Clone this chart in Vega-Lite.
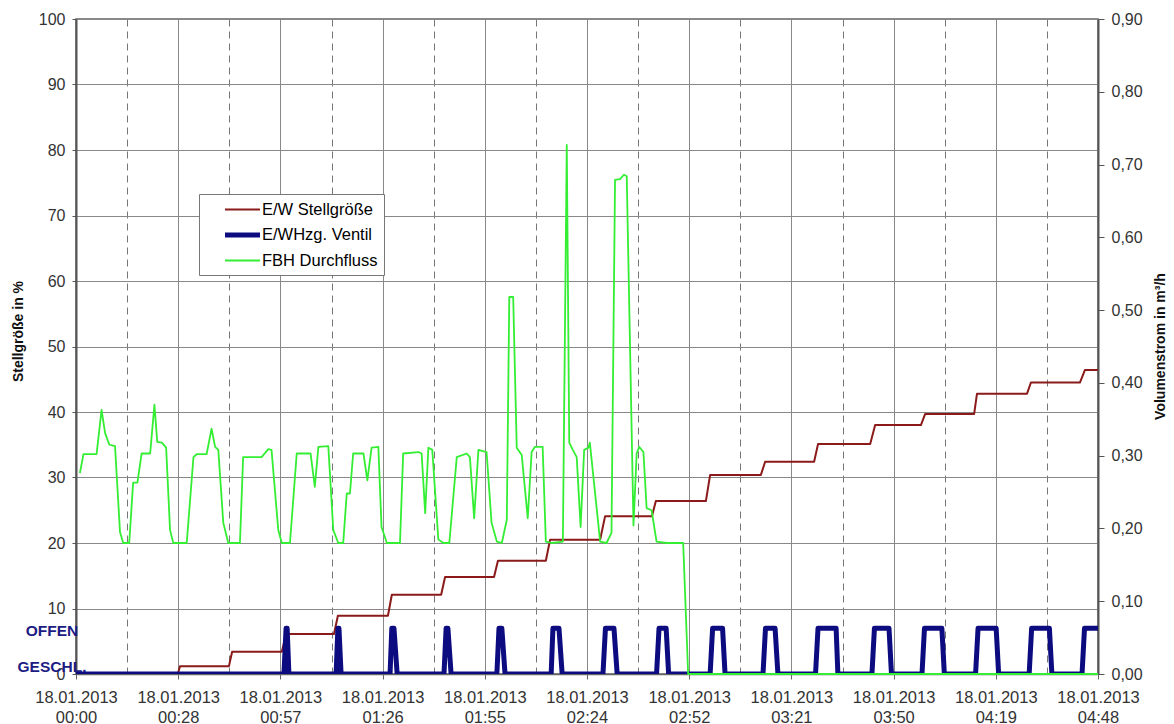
{
  "$schema": "https://vega.github.io/schema/vega-lite/v6.json",
  "width": 1022,
  "height": 655,
  "autosize": {"type": "none"},
  "padding": {"left": 76, "top": 19, "right": 76, "bottom": 50},
  "background": "white",
  "config": {
    "font": "Liberation Sans",
    "view": {"stroke": "#666", "strokeWidth": 1.5},
    "axis": {"labelFont": "Liberation Sans", "labelColor": "#333", "labelFontSize": 16, "titleFont": "Liberation Sans"}
  },
  "data": {
    "values": [
      {"s": "E/W Stellgröße", "t": 0, "v": 0},
      {"s": "E/W Stellgröße", "t": 28.7, "v": 0},
      {"s": "E/W Stellgröße", "t": 29.3, "v": 1.2},
      {"s": "E/W Stellgröße", "t": 43.1, "v": 1.2},
      {"s": "E/W Stellgröße", "t": 44.0, "v": 3.4},
      {"s": "E/W Stellgröße", "t": 58.0, "v": 3.4},
      {"s": "E/W Stellgröße", "t": 59.2, "v": 6.1},
      {"s": "E/W Stellgröße", "t": 72.7, "v": 6.1},
      {"s": "E/W Stellgröße", "t": 73.8, "v": 8.9},
      {"s": "E/W Stellgröße", "t": 87.9, "v": 8.9},
      {"s": "E/W Stellgröße", "t": 89.0, "v": 12.1},
      {"s": "E/W Stellgröße", "t": 102.9, "v": 12.1},
      {"s": "E/W Stellgröße", "t": 104.0, "v": 14.8},
      {"s": "E/W Stellgröße", "t": 117.8, "v": 14.8},
      {"s": "E/W Stellgröße", "t": 118.9, "v": 17.3},
      {"s": "E/W Stellgröße", "t": 132.4, "v": 17.3},
      {"s": "E/W Stellgröße", "t": 133.6, "v": 20.5},
      {"s": "E/W Stellgröße", "t": 147.7, "v": 20.5},
      {"s": "E/W Stellgröße", "t": 149.1, "v": 24.1},
      {"s": "E/W Stellgröße", "t": 162.3, "v": 24.1},
      {"s": "E/W Stellgröße", "t": 163.4, "v": 26.4},
      {"s": "E/W Stellgröße", "t": 177.5, "v": 26.4},
      {"s": "E/W Stellgröße", "t": 178.7, "v": 30.4},
      {"s": "E/W Stellgröße", "t": 193.0, "v": 30.4},
      {"s": "E/W Stellgröße", "t": 194.2, "v": 32.4},
      {"s": "E/W Stellgröße", "t": 208.0, "v": 32.4},
      {"s": "E/W Stellgröße", "t": 209.1, "v": 35.1},
      {"s": "E/W Stellgröße", "t": 223.8, "v": 35.1},
      {"s": "E/W Stellgröße", "t": 225.2, "v": 38.0},
      {"s": "E/W Stellgröße", "t": 238.1, "v": 38.0},
      {"s": "E/W Stellgröße", "t": 239.3, "v": 39.7},
      {"s": "E/W Stellgröße", "t": 253.1, "v": 39.7},
      {"s": "E/W Stellgröße", "t": 253.9, "v": 42.8},
      {"s": "E/W Stellgröße", "t": 268.0, "v": 42.8},
      {"s": "E/W Stellgröße", "t": 269.1, "v": 44.5},
      {"s": "E/W Stellgröße", "t": 282.9, "v": 44.5},
      {"s": "E/W Stellgröße", "t": 284.3, "v": 46.4},
      {"s": "E/W Stellgröße", "t": 288, "v": 46.4},

      {"s": "E/WHzg. Ventil", "t": 0, "v": 0},
      {"s": "E/WHzg. Ventil", "t": 58.6, "v": 0},
      {"s": "E/WHzg. Ventil", "t": 59.2, "v": 7},
      {"s": "E/WHzg. Ventil", "t": 59.5, "v": 7},
      {"s": "E/WHzg. Ventil", "t": 60.0, "v": 0},
      {"s": "E/WHzg. Ventil", "t": 73.3, "v": 0},
      {"s": "E/WHzg. Ventil", "t": 73.8, "v": 7},
      {"s": "E/WHzg. Ventil", "t": 74.1, "v": 7},
      {"s": "E/WHzg. Ventil", "t": 74.7, "v": 0},
      {"s": "E/WHzg. Ventil", "t": 88.5, "v": 0},
      {"s": "E/WHzg. Ventil", "t": 89.0, "v": 7},
      {"s": "E/WHzg. Ventil", "t": 89.6, "v": 7},
      {"s": "E/WHzg. Ventil", "t": 90.5, "v": 0},
      {"s": "E/WHzg. Ventil", "t": 103.7, "v": 0},
      {"s": "E/WHzg. Ventil", "t": 104.3, "v": 7},
      {"s": "E/WHzg. Ventil", "t": 104.8, "v": 7},
      {"s": "E/WHzg. Ventil", "t": 105.7, "v": 0},
      {"s": "E/WHzg. Ventil", "t": 118.6, "v": 0},
      {"s": "E/WHzg. Ventil", "t": 119.2, "v": 7},
      {"s": "E/WHzg. Ventil", "t": 120.0, "v": 7},
      {"s": "E/WHzg. Ventil", "t": 120.9, "v": 0},
      {"s": "E/WHzg. Ventil", "t": 133.9, "v": 0},
      {"s": "E/WHzg. Ventil", "t": 134.4, "v": 7},
      {"s": "E/WHzg. Ventil", "t": 136.1, "v": 7},
      {"s": "E/WHzg. Ventil", "t": 137.0, "v": 0},
      {"s": "E/WHzg. Ventil", "t": 148.5, "v": 0},
      {"s": "E/WHzg. Ventil", "t": 149.2, "v": 7},
      {"s": "E/WHzg. Ventil", "t": 151.6, "v": 7},
      {"s": "E/WHzg. Ventil", "t": 152.5, "v": 0},
      {"s": "E/WHzg. Ventil", "t": 163.6, "v": 0},
      {"s": "E/WHzg. Ventil", "t": 164.3, "v": 7},
      {"s": "E/WHzg. Ventil", "t": 166.3, "v": 7},
      {"s": "E/WHzg. Ventil", "t": 167.0, "v": 0},
      {"s": "E/WHzg. Ventil", "t": 178.7, "v": 0},
      {"s": "E/WHzg. Ventil", "t": 179.4, "v": 7},
      {"s": "E/WHzg. Ventil", "t": 182.2, "v": 7},
      {"s": "E/WHzg. Ventil", "t": 182.9, "v": 0},
      {"s": "E/WHzg. Ventil", "t": 193.6, "v": 0},
      {"s": "E/WHzg. Ventil", "t": 194.3, "v": 7},
      {"s": "E/WHzg. Ventil", "t": 197.0, "v": 7},
      {"s": "E/WHzg. Ventil", "t": 197.8, "v": 0},
      {"s": "E/WHzg. Ventil", "t": 208.4, "v": 0},
      {"s": "E/WHzg. Ventil", "t": 209.1, "v": 7},
      {"s": "E/WHzg. Ventil", "t": 214.2, "v": 7},
      {"s": "E/WHzg. Ventil", "t": 214.7, "v": 0},
      {"s": "E/WHzg. Ventil", "t": 224.3, "v": 0},
      {"s": "E/WHzg. Ventil", "t": 225.0, "v": 7},
      {"s": "E/WHzg. Ventil", "t": 229.1, "v": 7},
      {"s": "E/WHzg. Ventil", "t": 229.8, "v": 0},
      {"s": "E/WHzg. Ventil", "t": 238.4, "v": 0},
      {"s": "E/WHzg. Ventil", "t": 239.1, "v": 7},
      {"s": "E/WHzg. Ventil", "t": 244.0, "v": 7},
      {"s": "E/WHzg. Ventil", "t": 244.7, "v": 0},
      {"s": "E/WHzg. Ventil", "t": 253.5, "v": 0},
      {"s": "E/WHzg. Ventil", "t": 254.2, "v": 7},
      {"s": "E/WHzg. Ventil", "t": 259.3, "v": 7},
      {"s": "E/WHzg. Ventil", "t": 260.0, "v": 0},
      {"s": "E/WHzg. Ventil", "t": 268.6, "v": 0},
      {"s": "E/WHzg. Ventil", "t": 269.3, "v": 7},
      {"s": "E/WHzg. Ventil", "t": 274.3, "v": 7},
      {"s": "E/WHzg. Ventil", "t": 275.0, "v": 0},
      {"s": "E/WHzg. Ventil", "t": 283.5, "v": 0},
      {"s": "E/WHzg. Ventil", "t": 284.2, "v": 7},
      {"s": "E/WHzg. Ventil", "t": 288, "v": 7},

      {"s": "FBH Durchfluss", "t": 1.1, "v": 0.276},
      {"s": "FBH Durchfluss", "t": 2.1, "v": 0.302},
      {"s": "FBH Durchfluss", "t": 5.8, "v": 0.302},
      {"s": "FBH Durchfluss", "t": 7.2, "v": 0.363},
      {"s": "FBH Durchfluss", "t": 8.2, "v": 0.331},
      {"s": "FBH Durchfluss", "t": 9.4, "v": 0.315},
      {"s": "FBH Durchfluss", "t": 11.0, "v": 0.313},
      {"s": "FBH Durchfluss", "t": 12.4, "v": 0.195},
      {"s": "FBH Durchfluss", "t": 13.3, "v": 0.18},
      {"s": "FBH Durchfluss", "t": 15.0, "v": 0.18},
      {"s": "FBH Durchfluss", "t": 16.1, "v": 0.263},
      {"s": "FBH Durchfluss", "t": 17.3, "v": 0.263},
      {"s": "FBH Durchfluss", "t": 18.5, "v": 0.303},
      {"s": "FBH Durchfluss", "t": 20.9, "v": 0.303},
      {"s": "FBH Durchfluss", "t": 22.1, "v": 0.370},
      {"s": "FBH Durchfluss", "t": 22.9, "v": 0.319},
      {"s": "FBH Durchfluss", "t": 24.2, "v": 0.318},
      {"s": "FBH Durchfluss", "t": 25.4, "v": 0.311},
      {"s": "FBH Durchfluss", "t": 26.5, "v": 0.198},
      {"s": "FBH Durchfluss", "t": 27.4, "v": 0.18},
      {"s": "FBH Durchfluss", "t": 31.2, "v": 0.18},
      {"s": "FBH Durchfluss", "t": 33.1, "v": 0.298},
      {"s": "FBH Durchfluss", "t": 34.0, "v": 0.302},
      {"s": "FBH Durchfluss", "t": 36.8, "v": 0.302},
      {"s": "FBH Durchfluss", "t": 38.2, "v": 0.337},
      {"s": "FBH Durchfluss", "t": 39.2, "v": 0.312},
      {"s": "FBH Durchfluss", "t": 40.1, "v": 0.308},
      {"s": "FBH Durchfluss", "t": 41.5, "v": 0.208},
      {"s": "FBH Durchfluss", "t": 42.9, "v": 0.18},
      {"s": "FBH Durchfluss", "t": 46.2, "v": 0.18},
      {"s": "FBH Durchfluss", "t": 47.1, "v": 0.298},
      {"s": "FBH Durchfluss", "t": 52.3, "v": 0.298},
      {"s": "FBH Durchfluss", "t": 54.2, "v": 0.309},
      {"s": "FBH Durchfluss", "t": 55.1, "v": 0.308},
      {"s": "FBH Durchfluss", "t": 57.0, "v": 0.198},
      {"s": "FBH Durchfluss", "t": 58.0, "v": 0.18},
      {"s": "FBH Durchfluss", "t": 60.3, "v": 0.18},
      {"s": "FBH Durchfluss", "t": 62.2, "v": 0.303},
      {"s": "FBH Durchfluss", "t": 66.1, "v": 0.303},
      {"s": "FBH Durchfluss", "t": 67.3, "v": 0.257},
      {"s": "FBH Durchfluss", "t": 68.3, "v": 0.312},
      {"s": "FBH Durchfluss", "t": 71.1, "v": 0.313},
      {"s": "FBH Durchfluss", "t": 72.5, "v": 0.198},
      {"s": "FBH Durchfluss", "t": 73.9, "v": 0.18},
      {"s": "FBH Durchfluss", "t": 75.3, "v": 0.18},
      {"s": "FBH Durchfluss", "t": 76.3, "v": 0.248},
      {"s": "FBH Durchfluss", "t": 77.2, "v": 0.248},
      {"s": "FBH Durchfluss", "t": 78.1, "v": 0.303},
      {"s": "FBH Durchfluss", "t": 81.0, "v": 0.303},
      {"s": "FBH Durchfluss", "t": 82.1, "v": 0.266},
      {"s": "FBH Durchfluss", "t": 83.3, "v": 0.311},
      {"s": "FBH Durchfluss", "t": 85.2, "v": 0.312},
      {"s": "FBH Durchfluss", "t": 86.1, "v": 0.202},
      {"s": "FBH Durchfluss", "t": 87.6, "v": 0.18},
      {"s": "FBH Durchfluss", "t": 91.3, "v": 0.18},
      {"s": "FBH Durchfluss", "t": 92.2, "v": 0.303},
      {"s": "FBH Durchfluss", "t": 96.5, "v": 0.305},
      {"s": "FBH Durchfluss", "t": 97.4, "v": 0.303},
      {"s": "FBH Durchfluss", "t": 98.4, "v": 0.221},
      {"s": "FBH Durchfluss", "t": 99.3, "v": 0.311},
      {"s": "FBH Durchfluss", "t": 100.4, "v": 0.308},
      {"s": "FBH Durchfluss", "t": 102.1, "v": 0.185},
      {"s": "FBH Durchfluss", "t": 103.5, "v": 0.18},
      {"s": "FBH Durchfluss", "t": 105.2, "v": 0.18},
      {"s": "FBH Durchfluss", "t": 107.3, "v": 0.298},
      {"s": "FBH Durchfluss", "t": 110.1, "v": 0.303},
      {"s": "FBH Durchfluss", "t": 111.0, "v": 0.298},
      {"s": "FBH Durchfluss", "t": 112.2, "v": 0.214},
      {"s": "FBH Durchfluss", "t": 113.4, "v": 0.308},
      {"s": "FBH Durchfluss", "t": 115.7, "v": 0.305},
      {"s": "FBH Durchfluss", "t": 117.1, "v": 0.208},
      {"s": "FBH Durchfluss", "t": 118.6, "v": 0.182},
      {"s": "FBH Durchfluss", "t": 120.0, "v": 0.18},
      {"s": "FBH Durchfluss", "t": 121.4, "v": 0.212},
      {"s": "FBH Durchfluss", "t": 122.1, "v": 0.518},
      {"s": "FBH Durchfluss", "t": 123.2, "v": 0.518},
      {"s": "FBH Durchfluss", "t": 124.2, "v": 0.311},
      {"s": "FBH Durchfluss", "t": 125.6, "v": 0.301},
      {"s": "FBH Durchfluss", "t": 127.3, "v": 0.214},
      {"s": "FBH Durchfluss", "t": 128.4, "v": 0.305},
      {"s": "FBH Durchfluss", "t": 129.3, "v": 0.312},
      {"s": "FBH Durchfluss", "t": 131.5, "v": 0.312},
      {"s": "FBH Durchfluss", "t": 132.4, "v": 0.182},
      {"s": "FBH Durchfluss", "t": 134.1, "v": 0.18},
      {"s": "FBH Durchfluss", "t": 137.2, "v": 0.182},
      {"s": "FBH Durchfluss", "t": 138.3, "v": 0.727},
      {"s": "FBH Durchfluss", "t": 139.0, "v": 0.318},
      {"s": "FBH Durchfluss", "t": 140.0, "v": 0.308},
      {"s": "FBH Durchfluss", "t": 141.1, "v": 0.298},
      {"s": "FBH Durchfluss", "t": 142.2, "v": 0.202},
      {"s": "FBH Durchfluss", "t": 143.2, "v": 0.308},
      {"s": "FBH Durchfluss", "t": 144.4, "v": 0.311},
      {"s": "FBH Durchfluss", "t": 144.8, "v": 0.318},
      {"s": "FBH Durchfluss", "t": 147.7, "v": 0.182},
      {"s": "FBH Durchfluss", "t": 149.5, "v": 0.18},
      {"s": "FBH Durchfluss", "t": 150.9, "v": 0.194},
      {"s": "FBH Durchfluss", "t": 151.9, "v": 0.679},
      {"s": "FBH Durchfluss", "t": 153.3, "v": 0.680},
      {"s": "FBH Durchfluss", "t": 154.4, "v": 0.686},
      {"s": "FBH Durchfluss", "t": 155.2, "v": 0.684},
      {"s": "FBH Durchfluss", "t": 157.1, "v": 0.204},
      {"s": "FBH Durchfluss", "t": 158.0, "v": 0.303},
      {"s": "FBH Durchfluss", "t": 158.7, "v": 0.312},
      {"s": "FBH Durchfluss", "t": 159.9, "v": 0.305},
      {"s": "FBH Durchfluss", "t": 160.8, "v": 0.228},
      {"s": "FBH Durchfluss", "t": 162.2, "v": 0.225},
      {"s": "FBH Durchfluss", "t": 163.6, "v": 0.182},
      {"s": "FBH Durchfluss", "t": 166.5, "v": 0.18},
      {"s": "FBH Durchfluss", "t": 171.1, "v": 0.18},
      {"s": "FBH Durchfluss", "t": 172.5, "v": 0},
      {"s": "FBH Durchfluss", "t": 288, "v": 0}
    ]
  },
  "resolve": {"scale": {"y": "independent"}, "axis": {"x": "independent"}},
  "layer": [
    {
      "transform": [{"filter": "datum.s !== 'FBH Durchfluss'"}],
      "mark": {"type": "line", "clip": true, "strokeJoin": "round"},
      "encoding": {
        "x": {
          "field": "t", "type": "quantitative",
          "scale": {"domain": [0, 288], "nice": false, "zero": false},
          "axis": {
            "orient": "bottom", "title": null,
            "values": [0, 28.8, 57.6, 86.4, 115.2, 144, 172.8, 201.6, 230.4, 259.2, 288],
            "grid": true, "gridColor": "#888", "gridWidth": 1,
            "domainColor": "#666", "domainWidth": 1.5,
            "tickSize": 5, "tickColor": "#666",
            "labelFontSize": 16.5,
            "labelPadding": 10, "labelLineHeight": 20, "labelFlush": false, "labelOverlap": false,
            "labelExpr": "['18.01.2013', (floor(datum.value/60) < 10 ? '0' : '') + floor(datum.value/60) + ':' + (floor(datum.value % 60) < 10 ? '0' : '') + floor(datum.value % 60)]"
          }
        },
        "y": {
          "field": "v", "type": "quantitative",
          "scale": {"domain": [0, 100], "nice": false},
          "axis": {
            "orient": "left",
            "values": [0, 10, 20, 30, 40, 50, 60, 70, 80, 90, 100],
            "title": "Stellgröße in %", "titleFontWeight": "bold", "titleFontSize": 14, "titleColor": "#111",
            "titleAngle": -90, "titleX": -58, "titleY": 312, "titleAlign": "center", "titleBaseline": "middle",
            "grid": true, "gridColor": "#888", "gridWidth": 1,
            "domainColor": "#555", "domainWidth": 2,
            "tickSize": 4, "tickColor": "#555", "labelPadding": 7
          }
        },
        "color": {
          "field": "s", "type": "nominal",
          "scale": {"domain": ["E/W Stellgröße", "E/WHzg. Ventil", "FBH Durchfluss"], "range": ["#8b1a1a", "#0c0c80", "#33ee33"]},
          "legend": {
            "orient": "none", "legendX": 123, "legendY": 175, "title": null,
            "symbolType": "M-2,0H2", "symbolSize": 306, "symbolOffset": 26.5, "symbolStrokeWidth": 2,
            "labelFontSize": 16.5, "labelColor": "#000", "labelFont": "Liberation Sans", "labelOffset": 8,
            "padding": 5.5, "rowPadding": 5, "strokeColor": "#777", "fillColor": "white",
            "encode": {"symbols": {"update": {"strokeWidth": {"signal": "datum.value === 'E/WHzg. Ventil' ? 5 : 2"}}}}
          }
        },
        "strokeWidth": {
          "field": "s", "type": "nominal",
          "scale": {"type": "ordinal", "domain": ["E/W Stellgröße", "E/WHzg. Ventil", "FBH Durchfluss"], "range": [2, 5, 1.8]},
          "legend": null
        }
      }
    },
    {
      "transform": [{"filter": "datum.s === 'FBH Durchfluss'"}],
      "mark": {"type": "line", "strokeJoin": "round"},
      "encoding": {
        "x": {
          "field": "t", "type": "quantitative",
          "axis": {
            "orient": "bottom", "title": null,
            "values": [14.4, 43.2, 72, 100.8, 129.6, 158.4, 187.2, 216, 244.8, 273.6],
            "labels": false, "ticks": false, "domain": false,
            "grid": true, "gridDash": [7, 5], "gridColor": "#777", "gridWidth": 1
          }
        },
        "y": {
          "field": "v", "type": "quantitative",
          "scale": {"domain": [0, 0.9], "nice": false},
          "axis": {
            "orient": "right",
            "values": [0, 0.1, 0.2, 0.3, 0.4, 0.5, 0.6, 0.7, 0.8, 0.9],
            "labelExpr": "replace(format(datum.value, '.2f'), '.', ',')",
            "title": "Volumenstrom in m³/h", "titleFontWeight": "bold", "titleFontSize": 14, "titleColor": "#111",
            "titleAngle": -90, "titleX": 62, "titleY": 327, "titleAlign": "center", "titleBaseline": "middle",
            "grid": false, "domainColor": "#555", "domainWidth": 2,
            "tickSize": 6, "tickColor": "#555", "labelPadding": 7
          }
        },
        "color": {"field": "s", "type": "nominal"},
        "strokeWidth": {
          "field": "s", "type": "nominal",
          "scale": {"type": "ordinal", "domain": ["E/W Stellgröße", "E/WHzg. Ventil", "FBH Durchfluss"], "range": [2, 5, 1.8]},
          "legend": null
        }
      }
    },
    {
      "data": {"values": [{"lab": "OFFEN", "t": 0, "p": 6.6}, {"lab": "GESCHL.", "t": 0, "p": 1.1}]},
      "mark": {"type": "text", "align": "center", "baseline": "middle", "dx": -24, "fontWeight": "bold", "fontSize": 15.5, "color": "#1c1c84", "font": "Liberation Sans"},
      "encoding": {
        "x": {"field": "t", "type": "quantitative", "axis": null},
        "y": {"field": "p", "type": "quantitative", "scale": {"domain": [0, 100], "nice": false}, "axis": null},
        "text": {"field": "lab"}
      }
    }
  ]
}
